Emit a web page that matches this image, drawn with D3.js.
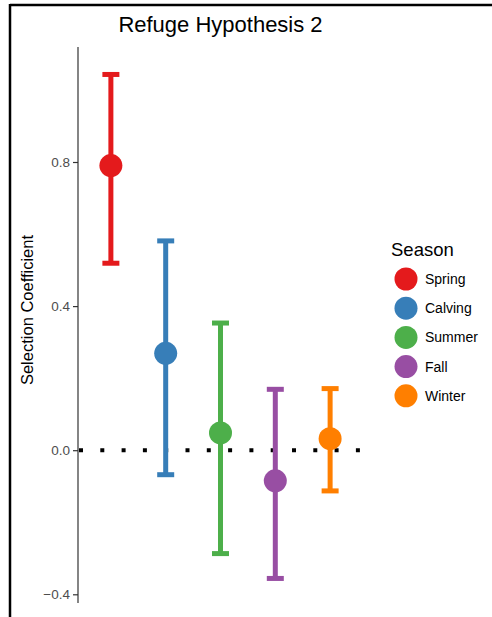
<!DOCTYPE html>
<html>
<head>
<meta charset="utf-8">
<script src="https://cdn.jsdelivr.net/npm/d3@7"></script>
<style>
  html, body { margin: 0; padding: 0; background: #fff; }
  svg { display: block; font-family: "Liberation Sans", Arial, sans-serif; }
</style>
</head>
<body>
<svg id="chart" width="492" height="617"></svg>
<script>
// Seasonal selection coefficients with confidence limits
const seasons = ["Spring", "Calving", "Summer", "Fall", "Winter"];
const estimates = [0.790, 0.269, 0.048, -0.085, 0.032];
const lowerCI = [0.519, -0.068, -0.287, -0.356, -0.113];
const upperCI = [1.043, 0.581, 0.353, 0.169, 0.171];
const seasonColors = ["#E41A1C", "#377EB8", "#4DAF4A", "#984EA3", "#FF7F00"];
const yTicks = [-0.4, 0.0, 0.4, 0.8];

const svg = d3.select("#chart");

// frame lines (top and left)
svg.append("line").attr("x1", 10).attr("x2", 492).attr("y1", 5).attr("y2", 5)
  .attr("stroke", "#000").attr("stroke-width", 2.5);
svg.append("line").attr("x1", 10).attr("x2", 10).attr("y1", 4).attr("y2", 617)
  .attr("stroke", "#000").attr("stroke-width", 2.5);

const panel = { left: 78, right: 363, top: 47, bottom: 603 };

const y = d3.scaleLinear().domain([-0.4, 0.8]).range([594.3, 162]);
const x = d3.scalePoint().domain(seasons)
  .range([panel.left, panel.right]).padding(0.6);

const color = d3.scaleOrdinal().domain(seasons).range(seasonColors);

// y axis
const yAxis = d3.axisLeft(y).tickValues(yTicks).tickFormat(d3.format(".1f"))
  .tickSize(5).tickPadding(3);
const gy = svg.append("g").attr("transform", `translate(${panel.left},0)`).call(yAxis);
gy.select(".domain").remove();
gy.append("line").attr("x1", 0).attr("x2", 0)
  .attr("y1", panel.top).attr("y2", panel.bottom)
  .attr("stroke", "#333").attr("stroke-width", 1.2);
gy.selectAll(".tick line").attr("stroke", "#333").attr("stroke-width", 1.2);
gy.selectAll(".tick text").attr("fill", "#4d4d4d").attr("font-size", 13.5)
  .attr("font-family", "Liberation Sans, Arial, sans-serif");

// y axis title
svg.append("text")
  .attr("transform", `translate(33,310) rotate(-90)`)
  .attr("text-anchor", "middle")
  .attr("font-size", 16.5).attr("fill", "#000")
  .text("Selection Coefficient");

// chart title
svg.append("text")
  .attr("x", (panel.left + panel.right) / 2).attr("y", 32)
  .attr("text-anchor", "middle").attr("font-size", 22).attr("fill", "#000")
  .text("Refuge Hypothesis 2");

// zero reference line
svg.append("line")
  .attr("x1", panel.left + 1).attr("x2", panel.right)
  .attr("y1", y(0)).attr("y2", y(0))
  .attr("stroke", "#000").attr("stroke-width", 4)
  .attr("stroke-dasharray", "4,17.3");

const rows = seasons.map((s, i) => ({
  season: s, est: estimates[i], lo: lowerCI[i], hi: upperCI[i]
}));

const capHalf = 8.5;
const g = svg.append("g").selectAll("g").data(rows).join("g");
g.append("line")
  .attr("x1", d => x(d.season)).attr("x2", d => x(d.season))
  .attr("y1", d => y(d.lo)).attr("y2", d => y(d.hi))
  .attr("stroke", d => color(d.season)).attr("stroke-width", 5);
g.append("line")
  .attr("x1", d => x(d.season) - capHalf).attr("x2", d => x(d.season) + capHalf)
  .attr("y1", d => y(d.hi)).attr("y2", d => y(d.hi))
  .attr("stroke", d => color(d.season)).attr("stroke-width", 5);
g.append("line")
  .attr("x1", d => x(d.season) - capHalf).attr("x2", d => x(d.season) + capHalf)
  .attr("y1", d => y(d.lo)).attr("y2", d => y(d.lo))
  .attr("stroke", d => color(d.season)).attr("stroke-width", 5);
g.append("circle")
  .attr("cx", d => x(d.season)).attr("cy", d => y(d.est)).attr("r", 11.5)
  .attr("fill", d => color(d.season));

// legend
const legend = svg.append("g");
legend.append("text").attr("x", 391).attr("y", 256)
  .attr("font-size", 18.5).attr("fill", "#000").text("Season");
const li = legend.selectAll("g.item").data(seasons).join("g")
  .attr("class", "item")
  .attr("transform", (d, i) => `translate(406,${279 + i * 29.2})`);
li.append("circle").attr("r", 11.5).attr("fill", d => color(d));
li.append("text").attr("x", 19).attr("y", 5)
  .attr("font-size", 14).attr("fill", "#000").text(d => d);
</script>
</body>
</html>
